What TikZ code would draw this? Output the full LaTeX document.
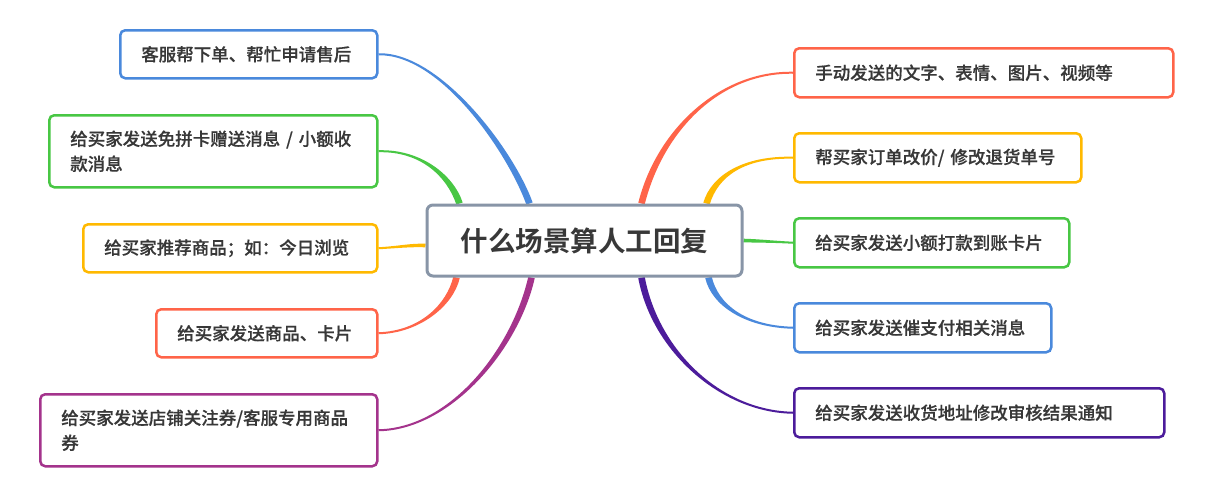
\documentclass[tikz,border=0pt]{standalone}
\usepackage{fontspec}
\newfontfamily\cjk{Noto Sans CJK SC Medium}[FakeBold=0.45]
\newfontfamily\cjkhub{Noto Sans CJK SC Bold}
\usetikzlibrary{calc,backgrounds}
\definecolor{cblue}{HTML}{4A89DC}
\definecolor{cgreen}{HTML}{48C744}
\definecolor{corange}{HTML}{FFB900}
\definecolor{cred}{HTML}{FF6449}
\definecolor{cmag}{HTML}{A4338C}
\definecolor{cpurp}{HTML}{4C1C9B}
\definecolor{cgray}{HTML}{8895A7}
\definecolor{ctext}{HTML}{383838}
\newcommand\branch[6]{%
  \coordinate (s1) at ($#2!1pt!90:#3$);
  \coordinate (s2) at ($#2!1pt!-90:#3$);
  \coordinate (e1) at ($#5!#6!-90:#4$);
  \coordinate (e2) at ($#5!#6!90:#4$);
  \fill[#1] (s1) .. controls ($#3+(s1)-#2$) and ($#4+(e1)-#5$) .. (e1)
    -- (e2) .. controls ($#4+(e2)-#5$) and ($#3+(s2)-#2$) .. (s2) -- cycle;
}
\tikzset{
  leaf/.style={draw=#1, line width=2.5pt, rounded corners=5pt, fill=white,
    inner xsep=21pt, inner ysep=0pt, align=left, text=ctext,
    font=\cjk\fontsize{17.5}{25}\selectfont, anchor=north west},
  hub/.style={draw=cgray, line width=3pt, rounded corners=6pt, fill=white,
    minimum width=315pt, minimum height=71pt, text=ctext,
    font=\cjkhub\fontsize{27.5}{32}\selectfont}
}
\begin{document}
\begin{tikzpicture}[x=1pt,y=-1pt]
\useasboundingbox (0,0) rectangle (1212,498);
\node[hub] (c) at (584.5,240.5) {什么场景算人工回复};
% left
\node[leaf=cblue, minimum width=257pt, minimum height=48pt, text width=215pt] (l1) at (119,29) {客服帮下单、帮忙申请售后};
\node[leaf=cgreen, minimum width=328pt, minimum height=72pt, text width=286pt] (l2) at (48,114) {给买家发送免拼卡赠送消息 / 小额收\\款消息};
\node[leaf=corange, minimum width=294pt, minimum height=48pt, text width=252pt] (l3) at (82,223) {给买家推荐商品；如：今日浏览};
\node[leaf=cred, minimum width=221pt, minimum height=48pt, text width=179pt] (l4) at (155,308) {给买家发送商品、卡片};
\node[leaf=cmag, minimum width=337pt, minimum height=72pt, text width=295pt] (l5) at (39,393) {给买家发送店铺关注券/客服专用商品\\券};
% right
\node[leaf=cred, minimum width=379pt, minimum height=49pt, text width=337pt] (r1) at (793,47) {手动发送的文字、表情、图片、视频等};
\node[leaf=corange, minimum width=287pt, minimum height=49pt, text width=245pt] (r2) at (793,132) {帮买家订单改价/ 修改退货单号};
\node[leaf=cgreen, minimum width=275pt, minimum height=49pt, text width=233pt] (r3) at (793,217) {给买家发送小额打款到账卡片};
\node[leaf=cblue, minimum width=257pt, minimum height=49pt, text width=215pt] (r4) at (793,302) {给买家发送催支付相关消息};
\node[leaf=cpurp, minimum width=370pt, minimum height=49pt, text width=328pt] (r5) at (793,387) {给买家发送收货地址修改审核结果通知};
\begin{pgfonlayer}{background}
\fill[white] (0,0) rectangle (1212,498);
\branch{cblue}{(l1.east)}{(440,53)}{(510,150)}{($(c.north west)+(104,0)$)}{3.3pt}
\branch{cgreen}{(l2.east)}{(420,150)}{(450,175)}{($(c.north west)+(34,0)$)}{3.3pt}
\branch{corange}{(l3.east)}{(400,247)}{(410,245)}{($(c.west)+(0,5)$)}{1.8pt}
\branch{cred}{(l4.east)}{(420,332)}{(450,305)}{($(c.south west)+(31,0)$)}{3.3pt}
\branch{cmag}{(l5.east)}{(450,429)}{(515,350)}{($(c.south west)+(106,0)$)}{3.3pt}
\branch{cred}{(r1.west)}{(720,71.5)}{(660,130)}{($(c.north west)+(216,0)$)}{3.3pt}
\branch{corange}{(r2.west)}{(745,156.5)}{(715,175)}{($(c.north west)+(281,0)$)}{3.3pt}
\branch{cgreen}{(r3.west)}{(770,241.5)}{(760,241)}{(c.east)}{1.8pt}
\branch{cblue}{(r4.west)}{(745,326.5)}{(715,305)}{($(c.south west)+(283,0)$)}{3.3pt}
\branch{cpurp}{(r5.west)}{(720,411.5)}{(655,350)}{($(c.south west)+(216,0)$)}{3.3pt}
\end{pgfonlayer}
\end{tikzpicture}
\end{document}
